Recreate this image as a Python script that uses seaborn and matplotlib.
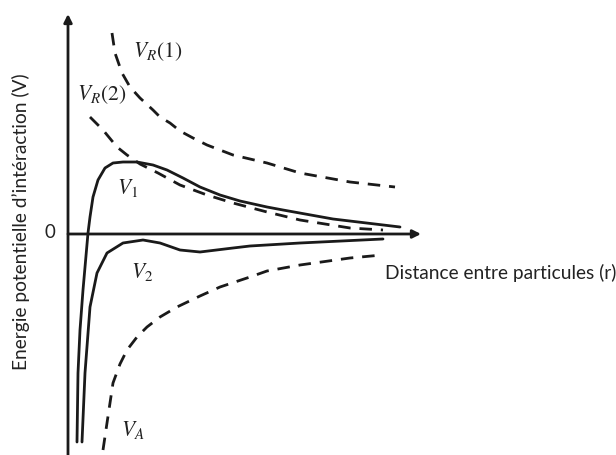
import matplotlib
matplotlib.use("Agg")
import matplotlib.pyplot as plt
import seaborn as sns
import pandas as pd

# Values read from the schematic (r: distance units, V: energy units; origin at the axes crossing)
r_VR1 = [44, 47, 54, 62, 72, 85, 92, 102, 112, 125, 139, 165, 199, 232, 282, 327]
V_VR1 = [201, 181, 161, 147, 136, 124, 117, 111, 103, 96, 89, 79, 71, 61, 52, 47]

r_VR2 = [22, 35, 49, 59, 72, 90, 112, 139, 165, 199, 232, 282, 315]
V_VR2 = [117, 104, 87, 79, 70, 61, 49, 39, 31, 22, 14, 6, 4]

r_V1 = [9, 10, 12, 15, 20, 22, 25, 30, 37, 45, 55, 69, 85, 99, 115, 132, 152, 172,
        199, 215, 265, 332]
V_V1 = [-208, -139, -96, -56, 1, 17, 37, 54, 66, 71, 72, 72, 69, 64, 56, 47, 39, 33,
        27, 24, 15, 7]

r_V2 = [14, 17, 22, 29, 39, 55, 75, 92, 112, 132, 165, 182, 232, 315]
V_V2 = [-208, -139, -73, -39, -19, -9, -6, -9, -16, -18, -14, -12, -9, -5]

r_VA = [35, 39, 45, 52, 59, 69, 79, 92, 109, 132, 152, 182, 199, 232, 282, 314]
V_VA = [-216, -189, -149, -130, -116, -103, -93, -83, -73, -62, -53, -43, -37, -31, -24, -21]

curve_names = ["VR1", "VR2", "V1", "V2", "VA"]
curve_labels = [r"$V_R(1)$", r"$V_R(2)$", r"$V_1$", r"$V_2$", r"$V_A$"]
label_pos_r = [90, 34, 60, 74, 65]
label_pos_V = [182, 139, 46, -38, -196]

frames = []
for name, rr, vv in [("VR1", r_VR1, V_VR1), ("VR2", r_VR2, V_VR2), ("V1", r_V1, V_V1),
                     ("V2", r_V2, V_V2), ("VA", r_VA, V_VA)]:
    frames.append(pd.DataFrame({"r": rr, "V": vv, "curve": name}))
df = pd.concat(frames, ignore_index=True)

sns.set_theme(style="white")
plt.rcParams["font.family"] = ["Lato", "DejaVu Sans"]
plt.rcParams["mathtext.fontset"] = "stix"

fig = plt.figure(figsize=(6.16, 4.55), dpi=100)
ax = fig.add_axes([0, 0, 1, 1])

styles = {"VR1": "--", "VR2": "--", "V1": "-", "V2": "-", "VA": "--"}
for name in curve_names:
    sub = df[df["curve"] == name]
    sns.lineplot(data=sub, x="r", y="V", ax=ax, color="#1a1a1a", lw=2.0,
                 linestyle=styles[name], sort=False, estimator=None)
    line = ax.lines[-1]
    line.set_solid_joinstyle("round")
    line.set_dash_joinstyle("round")
    if styles[name] == "--":
        line.set_dashes([4.5, 3.2])

ax.set_xlim(-68, 548)
ax.set_ylim(-221, 234)
ax.axis("off")

# Axes with arrows
ax.annotate("", xy=(0, 220), xytext=(0, -225),
            arrowprops=dict(arrowstyle="-|>", color="#1a1a1a", lw=2.0,
                            mutation_scale=12, shrinkA=0, shrinkB=0))
ax.annotate("", xy=(353, 0), xytext=(0, 0),
            arrowprops=dict(arrowstyle="-|>", color="#1a1a1a", lw=2.0,
                            mutation_scale=12, shrinkA=0, shrinkB=0))

for lab, xr, yv in zip(curve_labels, label_pos_r, label_pos_V):
    ax.text(xr, yv, lab, fontsize=15.5, ha="center", va="center", color="#222222")

ax.text(-18, 1, "0", fontsize=13.5, ha="center", va="center", color="#222222")
ax.text(317, -39, "Distance entre particules (r)", fontsize=13.8, ha="left",
        va="center", color="#222222")
ax.text(-47, 12, "Energie potentielle d\u2019intéraction (V)", fontsize=13.8,
        rotation=90, ha="center", va="center", color="#222222")

fig.savefig("out.png", dpi=100)
